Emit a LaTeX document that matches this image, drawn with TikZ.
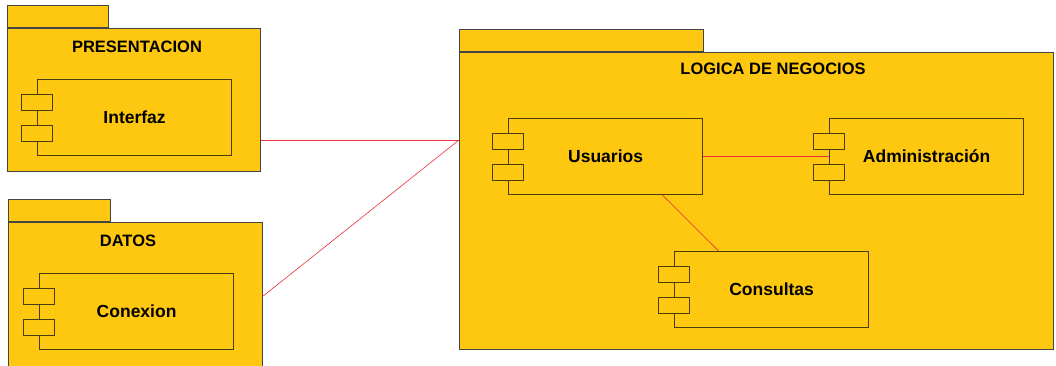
\documentclass[tikz,border=0pt]{standalone}
\usepackage{fontspec}
\setmainfont{Liberation Sans}
\usetikzlibrary{positioning,calc}
\definecolor{pkgfill}{HTML}{FDC80F}
\definecolor{pkgline}{HTML}{454545}
\definecolor{cmpline}{HTML}{4A3C12}
\definecolor{linkred}{HTML}{E8303A}
\tikzset{
  pkg/.style={draw=pkgline, fill=pkgfill, line width=1.2pt, inner sep=0pt, anchor=north west},
  pkgtab/.style={draw=pkgline, fill=pkgfill, line width=1.2pt, inner sep=0pt, anchor=south west, minimum height=22pt},
  cmp/.style={draw=cmpline, fill=pkgfill, line width=1.2pt, inner sep=0pt, minimum width=194pt, minimum height=76pt,
    font=\fontsize{17.5}{20}\selectfont\bfseries},
  port/.style={draw=cmpline, fill=pkgfill, line width=1.2pt, inner sep=0pt, minimum width=31pt, minimum height=15.5pt},
  title/.style={font=\fontsize{16.5}{19}\selectfont\bfseries, inner sep=0pt},
  link/.style={draw=linkred, line width=0.6pt}
}
\begin{document}
\begin{tikzpicture}[x=1pt,y=-1pt]
\clip (0,0) rectangle (1056,365);
\fill[white] (0,0) rectangle (1056,365);

% PRESENTACION
\node[pkg, minimum width=253pt, minimum height=143pt] (pres) at (7,28) {};
\node[pkgtab, minimum width=101pt] (presTab) at (pres.north west) {};
\node[title] (presTitle) at (137,47) {PRESENTACION};
\node[cmp, anchor=north west] (interfaz) at (37,79) {Interfaz};
\node[port] (interfazP1) at ($(interfaz.north west)+(0,23.5)$) {};
\node[port] (interfazP2) at ($(interfaz.north west)+(0,54.5)$) {};

% DATOS
\node[pkg, minimum width=254pt, minimum height=160pt] (datos) at (8,222) {};
\node[pkgtab, minimum width=102pt] (datosTab) at (datos.north west) {};
\node[title] (datosTitle) at (128,241) {DATOS};
\node[cmp, anchor=north west] (conexion) at (39,273) {Conexion};
\node[port] (conexionP1) at ($(conexion.north west)+(0,23.5)$) {};
\node[port] (conexionP2) at ($(conexion.north west)+(0,54.5)$) {};

% LOGICA DE NEGOCIOS
\node[pkg, minimum width=594pt, minimum height=297pt] (logica) at (459,52) {};
\node[pkgtab, minimum width=244pt] (logicaTab) at (logica.north west) {};
\node[title] (logicaTitle) at (773,69) {LOGICA DE NEGOCIOS};
\node[cmp, anchor=north west] (usuarios) at (508,118) {Usuarios};
\node[port] (usuariosP1) at ($(usuarios.north west)+(0,23.5)$) {};
\node[port] (usuariosP2) at ($(usuarios.north west)+(0,54.5)$) {};
\node[cmp, anchor=north west] (admin) at (829,118) {Administración};
\node[port] (adminP1) at ($(admin.north west)+(0,23.5)$) {};
\node[port] (adminP2) at ($(admin.north west)+(0,54.5)$) {};
\node[cmp, anchor=north west] (consultas) at (674,251) {Consultas};
\node[port] (consultasP1) at ($(consultas.north west)+(0,23.5)$) {};
\node[port] (consultasP2) at ($(consultas.north west)+(0,54.5)$) {};

% conectores
\coordinate (logicaIn) at ($(logica.north west)+(0,88)$);
\coordinate (datosOut) at ($(datos.north east)+(0,74)$);
\draw[link] (pres.east |- logicaIn) -- (logicaIn);
\draw[link] (datosOut) -- (logicaIn);
\draw[link] (usuarios.east) -- (admin.west);
\draw[link] ([xshift=57pt]usuarios.south) -- ([xshift=-53pt]consultas.north);
\end{tikzpicture}
\end{document}
